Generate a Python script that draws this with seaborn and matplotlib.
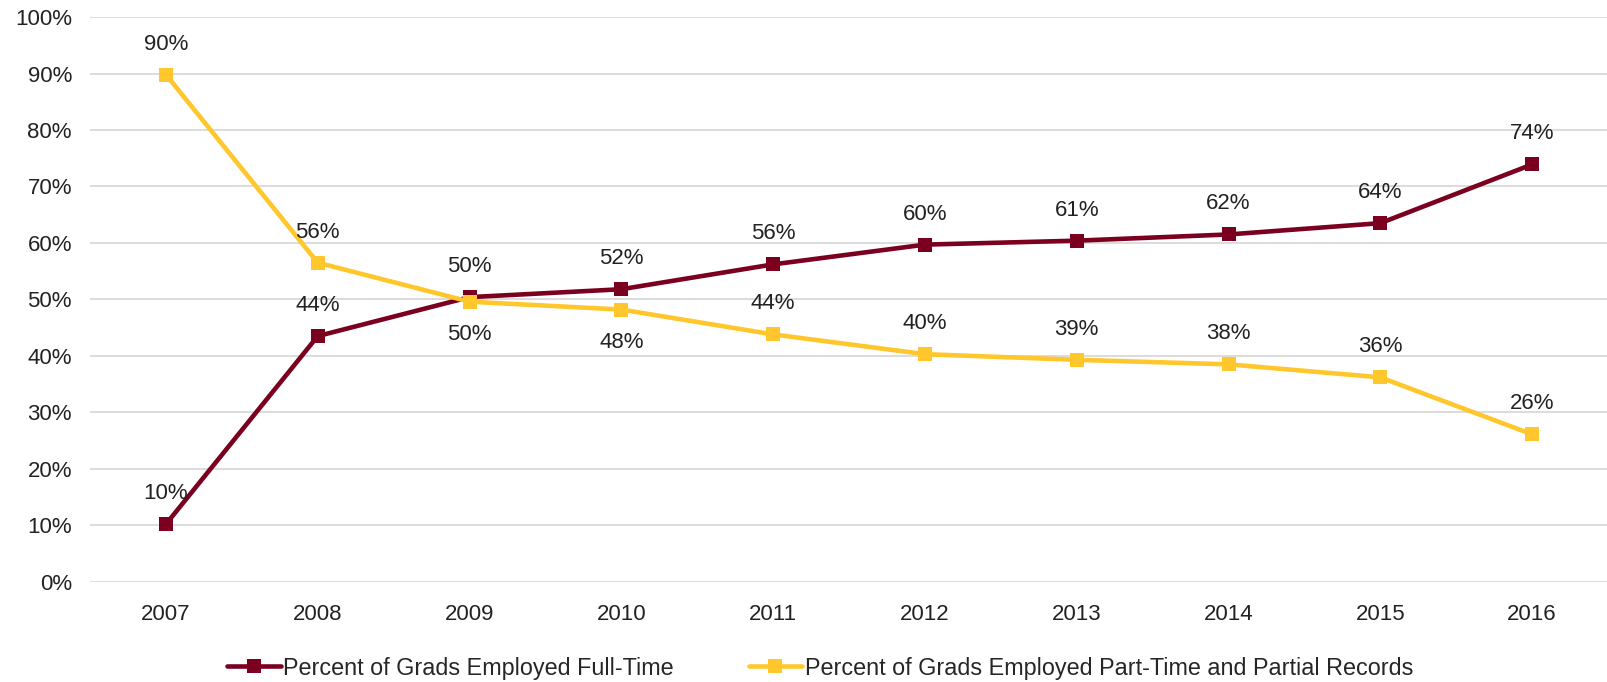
import pandas as pd
import matplotlib
matplotlib.use("Agg")
import matplotlib.pyplot as plt
import seaborn as sns
from matplotlib.ticker import PercentFormatter

years = ["2007", "2008", "2009", "2010", "2011", "2012", "2013", "2014", "2015", "2016"]
full_time = [10.2, 43.5, 50.4, 51.8, 56.2, 59.7, 60.4, 61.5, 63.5, 73.9]
part_time = [89.8, 56.5, 49.6, 48.2, 43.8, 40.3, 39.3, 38.5, 36.2, 26.1]
full_labels = ["10%", "44%", "50%", "52%", "56%", "60%", "61%", "62%", "64%", "74%"]
part_labels = ["90%", "56%", "50%", "48%", "44%", "40%", "39%", "38%", "36%", "26%"]

name_ft = "Percent of Grads Employed Full-Time"
name_pt = "Percent of Grads Employed Part-Time and Partial Records"

df = pd.DataFrame({
    "year": years * 2,
    "value": full_time + part_time,
    "series": [name_ft] * len(years) + [name_pt] * len(years),
})

sns.set_style("white")
plt.rcParams["font.family"] = ["Liberation Sans", "DejaVu Sans"]

fig = plt.figure(figsize=(16.08, 6.82), dpi=100)
ax = fig.add_axes([0.056, 0.147, 0.944, 0.828])

palette = {name_ft: "#7b0020", name_pt: "#ffc72c"}
sns.lineplot(data=df, x="year", y="value", hue="series", palette=palette,
             style="series", markers={name_ft: "s", name_pt: "s"}, dashes=False,
             linewidth=3.3, markersize=9.5, markeredgewidth=0, sort=False, ax=ax)

txt = "#222222"
# data labels
for i, (v, t) in enumerate(zip(full_time, full_labels)):
    ax.annotate(t, (i, v), xytext=(0, 22), textcoords="offset points",
                ha="center", va="center", fontsize=16, color=txt)
for i, (v, t) in enumerate(zip(part_time, part_labels)):
    dy = -24 if years[i] in ("2009", "2010") else 22
    ax.annotate(t, (i, v), xytext=(0, dy), textcoords="offset points",
                ha="center", va="center", fontsize=16, color=txt)

ax.set_ylim(0, 100)
ax.set_xlim(-0.5, 9.5)
ax.set_yticks(range(0, 101, 10))
ax.yaxis.set_major_formatter(PercentFormatter(decimals=0))
ax.grid(axis="y", color="#d9d9d9", linewidth=1.3)
ax.grid(axis="x", visible=False)
for s in ax.spines.values():
    s.set_visible(False)
ax.tick_params(axis="y", length=0, pad=13, labelsize=16, labelcolor=txt)
ax.tick_params(axis="x", length=0, pad=16, labelsize=16, labelcolor=txt)
ax.set_xlabel("")
ax.set_ylabel("")

handles, labels = ax.get_legend_handles_labels()
ax.legend(handles, labels, loc="center", bbox_to_anchor=(0.481, -0.153), ncol=2,
          frameon=False, fontsize=16.8, handlelength=2.3, handletextpad=0.1,
          columnspacing=3.2, borderaxespad=0)

fig.savefig("out.png", dpi=100)
